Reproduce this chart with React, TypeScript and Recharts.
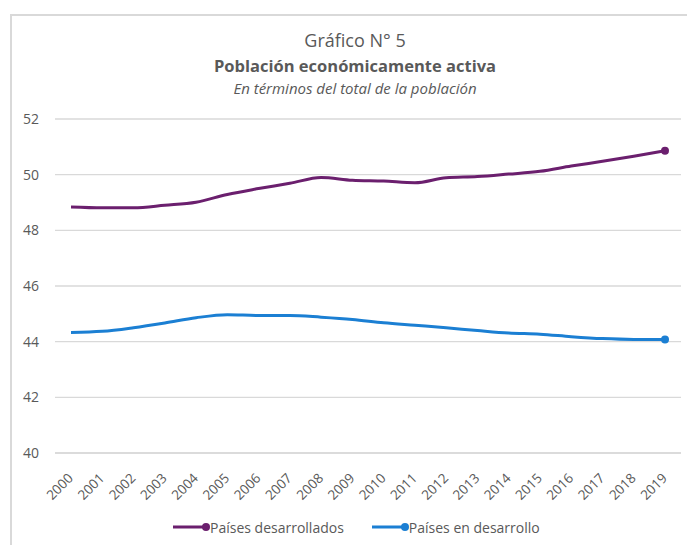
import React from "react";
import { LineChart, Line, XAxis, YAxis, CartesianGrid, Legend } from "recharts";

const years = ["2000","2001","2002","2003","2004","2005","2006","2007","2008","2009","2010","2011","2012","2013","2014","2015","2016","2017","2018","2019"];
const desarrollados = [48.84, 48.81, 48.81, 48.9, 49.01, 49.29, 49.5, 49.69, 49.9, 49.8, 49.77, 49.71, 49.89, 49.93, 50.02, 50.12, 50.31, 50.48, 50.66, 50.86];
const enDesarrollo = [44.33, 44.37, 44.5, 44.67, 44.86, 44.97, 44.94, 44.94, 44.88, 44.8, 44.68, 44.59, 44.5, 44.4, 44.31, 44.27, 44.18, 44.11, 44.08, 44.08];
const yTicks = [40, 42, 44, 46, 48, 50, 52];

const seriesNames = ["Países desarrollados", "Países en desarrollo"];
const colors = ["#6B1F6E", "#1B7FD3"];

const data = years.map((y, i) => ({ year: y, a: desarrollados[i], b: enDesarrollo[i] }));

const FONT = "'Open Sans', sans-serif";
const GRAY = "#595959";

const lastDot = (color: string) => (props: any) => {
  if (props.index === years.length - 1) {
    return <circle key={`d-${props.index}`} cx={props.cx} cy={props.cy} r={4} fill={color} stroke="none" />;
  }
  return <g key={`d-${props.index}`} />;
};

const XTick = (props: any) => {
  const { x, y, payload } = props;
  return (
    <text
      transform={`translate(${x + 3},${y + 18}) rotate(-45)`}
      textAnchor="end"
      fill={GRAY}
      fontSize={13.5}
      fontFamily={FONT}
    >
      {payload.value}
    </text>
  );
};

const LegendContent = () => (
  <div style={{ display: "flex", alignItems: "center", height: 30, paddingLeft: 173, fontFamily: FONT, fontSize: 14, color: GRAY }}>
    {seriesNames.map((n, i) => (
      <div key={n} style={{ display: "flex", alignItems: "center", marginRight: 28 }}>
        <svg width={37} height={10} style={{ display: "block" }}>
          <line x1={0} y1={5} x2={33} y2={5} stroke={colors[i]} strokeWidth={3} />
          <circle cx={33} cy={5} r={4} fill={colors[i]} />
        </svg>
        <span style={{ whiteSpace: "nowrap" }}>{n}</span>
      </div>
    ))}
  </div>
);

export default function App() {
  return (
    <div style={{ position: "fixed", left: 0, top: 0, width: 687, height: 545, overflow: "hidden", background: "#fff" }}>
      <div style={{ position: "absolute", left: 10, top: 14, width: 2000, height: 2000, borderLeft: "2px solid #d9d9d9", borderTop: "2px solid #d9d9d9" }} />
      <div style={{ position: "absolute", left: 0, width: 710, top: 28, textAlign: "center", fontFamily: FONT, color: GRAY, fontSize: 18, lineHeight: "24px" }}>
        Gráfico N° 5
      </div>
      <div style={{ position: "absolute", left: 0, width: 710, top: 54, textAlign: "center", fontFamily: FONT, color: GRAY, fontSize: 16.5, fontWeight: 700, lineHeight: "24px" }}>
        Población económicamente activa
      </div>
      <div style={{ position: "absolute", left: 0, width: 710, top: 77, textAlign: "center", fontFamily: FONT, color: GRAY, fontSize: 15, fontStyle: "italic", lineHeight: "22px" }}>
        En términos del total de la población
      </div>
      <div style={{ position: "absolute", left: 0, top: 0 }}>
        <LineChart width={687} height={545} data={data} margin={{ top: 119, right: 6, bottom: 3, left: 0 }}>
          <CartesianGrid vertical={false} stroke="#d9d9d9" strokeWidth={1.3} />
          <XAxis
            dataKey="year"
            interval={0}
            height={59}
            padding={{ left: 16, right: 16 }}
            tick={<XTick />}
            tickLine={false}
            axisLine={{ stroke: "#d9d9d9", strokeWidth: 1.3 }}
          />
          <YAxis
            domain={[40, 52]}
            ticks={yTicks}
            width={55}
            axisLine={false}
            tickLine={false}
            tickSize={14}
            tickMargin={2}
            tick={{ fill: GRAY, fontSize: 14, fontFamily: FONT }}
          />
          <Legend verticalAlign="bottom" content={<LegendContent />} />
          <Line type="monotone" dataKey="a" name={seriesNames[0]} stroke={colors[0]} strokeWidth={3} dot={lastDot(colors[0])} isAnimationActive={false} />
          <Line type="monotone" dataKey="b" name={seriesNames[1]} stroke={colors[1]} strokeWidth={3} dot={lastDot(colors[1])} isAnimationActive={false} />
        </LineChart>
      </div>
    </div>
  );
}
